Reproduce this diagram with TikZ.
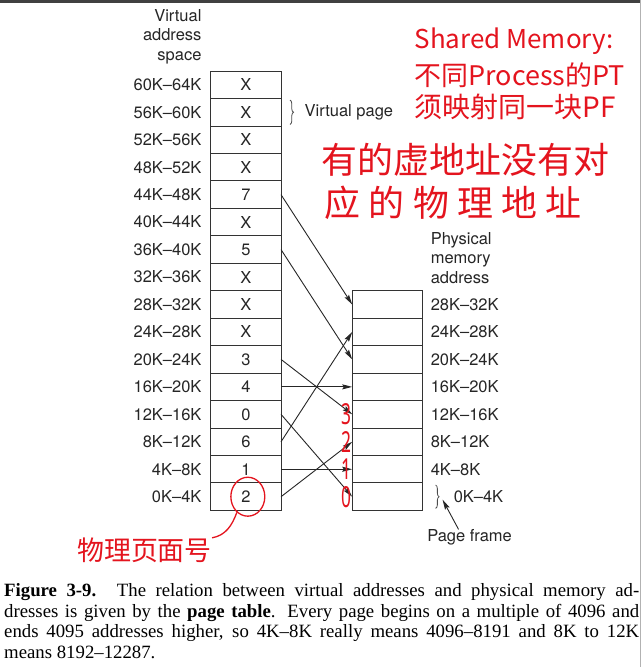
\documentclass[tikz,border=0pt]{standalone}
\usepackage{fontspec}
\setmainfont{Liberation Serif}
\setsansfont{TeX Gyre Heros}
\newfontfamily\cjk{Noto Sans CJK SC}
\newfontfamily\cjkwide[LetterSpace=23]{Noto Sans CJK SC}
\newfontfamily\hand{Noto Sans}
\usetikzlibrary{positioning,shapes,arrows.meta,decorations.pathreplacing}
\definecolor{inkred}{RGB}{228,20,30}

\begin{document}
\begin{tikzpicture}[x=1pt, y=-1pt, node distance=0pt]
\tikzset{
    addr/.style={inner sep=0pt, text=black!85, font=\sffamily\fontsize{16.5}{19.5}\selectfont},
    vcell/.style={rectangle, draw=black!80, line width=1pt, minimum width=70.5pt, minimum height=27.5pt, addr, outer sep=0pt},
    pcell/.style={vcell},
    vaddr/.style={label={[addr, label distance=9pt]left:#1}},
    paddr/.style={label={[addr, label distance=8pt]right:#1}},
    arrow/.style={-{Stealth[length=10pt, width=5pt, inset=1.5pt]}, line width=0.9pt, black!85},
    pbrace/.style={decorate, decoration={brace, amplitude=3.5pt}, line width=0.8pt, black!70},
    ink/.style={text=inkred, inner sep=0pt},
    inkno/.style={ink, font=\hand\fontsize{29}{29}\selectfont},
    inkline/.style={draw=inkred, line width=1.3pt},
    caption/.style={inner sep=0pt, text width=636pt, align=justify, font=\rmfamily\fontsize{18.8}{20.6}\selectfont}
}
\fill[white] (0,0) rectangle (642,667);
\fill[black!75] (0,0) rectangle (642,2.5);
\draw[gray!60, line width=1pt] (641.5,0) -- (641.5,667);

\node[vcell, vaddr=60K–64K] (v15) at (246.2,84.45) {X};
\node[vcell, below=of v15, vaddr=56K–60K] (v14) {X};
\node[vcell, below=of v14, vaddr=52K–56K] (v13) {X};
\node[vcell, below=of v13, vaddr=48K–52K] (v12) {X};
\node[vcell, below=of v12, vaddr=44K–48K] (v11) {7};
\node[vcell, below=of v11, vaddr=40K–44K] (v10) {X};
\node[vcell, below=of v10, vaddr=36K–40K] (v9) {5};
\node[vcell, below=of v9, vaddr=32K–36K] (v8) {X};
\node[vcell, below=of v8, vaddr=28K–32K] (v7) {X};
\node[vcell, below=of v7, vaddr=24K–28K] (v6) {X};
\node[vcell, below=of v6, vaddr=20K–24K] (v5) {3};
\node[vcell, below=of v5, vaddr=16K–20K] (v4) {4};
\node[vcell, below=of v4, vaddr=12K–16K] (v3) {0};
\node[vcell, below=of v3, vaddr=8K–12K] (v2) {6};
\node[vcell, below=of v2, vaddr=4K–8K] (v1) {1};
\node[vcell, below=of v1, vaddr=0K–4K] (v0) {2};
\node[addr, align=right, anchor=east] (vas) at ([xshift=-9pt, yshift=48.5pt]v15.west) {Virtual\\address\\space};
\draw[pbrace] ([xshift=9pt, yshift=-1.5pt]v14.north east) -- ([xshift=9pt, yshift=1.5pt]v14.south east);
\node[addr, anchor=west] (vpage) at ([xshift=23.5pt]v14.east) {Virtual page};

\node[pcell, paddr=28K–32K] (p7) at (388,304.45) {};
\node[pcell, below=of p7, paddr=24K–28K] (p6) {};
\node[pcell, below=of p6, paddr=20K–24K] (p5) {};
\node[pcell, below=of p5, paddr=16K–20K] (p4) {};
\node[pcell, below=of p4, paddr=12K–16K] (p3) {};
\node[pcell, below=of p3, paddr=8K–12K] (p2) {};
\node[pcell, below=of p2, paddr=4K–8K] (p1) {};
\node[pcell, below=of p1] (p0) {};
\node[addr, align=left, anchor=west] (pma) at ([xshift=8pt, yshift=46.5pt]p7.east) {Physical\\memory\\address};
\draw[pbrace] ([xshift=13pt, yshift=-2pt]p0.north east) -- ([xshift=13pt, yshift=2pt]p0.south east);
\node[addr, anchor=west] (p0addr) at ([xshift=31pt]p0.east) {0K–4K};
\coordinate (ptip) at ([xshift=20pt, yshift=-3pt]p0.east);
\node[addr] (pframe) at ([xshift=47pt, yshift=-27pt]p0.south east) {Page frame};
\draw[arrow] ([xshift=-11pt]pframe.north) -- (ptip);

\draw[arrow] (v11.east) -- (p7.west);
\draw[arrow] (v9.east) -- (p5.west);
\draw[arrow] (v5.east) -- (p3.west);
\draw[arrow] (v4.east) -- (p4.west);
\draw[arrow] (v3.east) -- (p0.west);
\draw[arrow] (v2.east) -- (p6.west);
\draw[arrow] (v1.east) -- (p1.west);
\draw[arrow] (v0.east) -- (p2.west);

\node[ink, anchor=base west, font=\cjk\fontsize{26}{26}\selectfont] (shm1) at (415,48) {Shared Memory:};
\node[ink, anchor=base west, font=\cjk\fontsize{27}{27}\selectfont] (shm2) at (415,85) {不同Process的PT};
\node[ink, anchor=base west, font=\cjk\fontsize{28}{28}\selectfont] (shm3) at (415,117) {须映射同一块PF};
\node[ink, anchor=base west, font=\cjk\fontsize{36}{36}\selectfont] (nomap1) at (322,173) {有的虚地址没有对};
\node[ink, anchor=base west, font=\cjkwide\fontsize{36}{36}\selectfont] (nomap2) at (325,216) {应的物理地址};
\node[inkno, left=1pt of p3.west] (f3) {\scalebox{0.6}[1]{3}};
\node[inkno, left=1pt of p2.west] (f2) {\scalebox{0.6}[1]{2}};
\node[inkno, left=1pt of p1.west] (f1) {\scalebox{0.6}[1]{1}};
\node[inkno, left=1pt of p0.west] (f0) {\scalebox{0.6}[1]{0}};
\node[draw=inkred, ellipse, line width=1.3pt, minimum width=34pt, minimum height=39pt, inner sep=0pt] (ring) at ([xshift=2pt]v0.center) {};
\node[ink, anchor=base west, font=\cjk\fontsize{27}{27}\selectfont] (pfnum) at (77,561) {物理页面号};
\draw[inkline] (ring.235) to[out=250, in=10] (pfnum.north east);

\node[caption, anchor=north west] (cap) at (4,583.9) {\tolerance=9999\relax{\bfseries Figure 3-9.} The relation between virtual addresses and physical memory ad-\linebreak dresses is given by the {\bfseries page table}. Every page begins on a multiple of 4096 and\linebreak ends 4095 addresses higher, so 4K–8K really means 4096–8191 and 8K to 12K\linebreak means 8192–12287.};
\end{tikzpicture}
\end{document}
